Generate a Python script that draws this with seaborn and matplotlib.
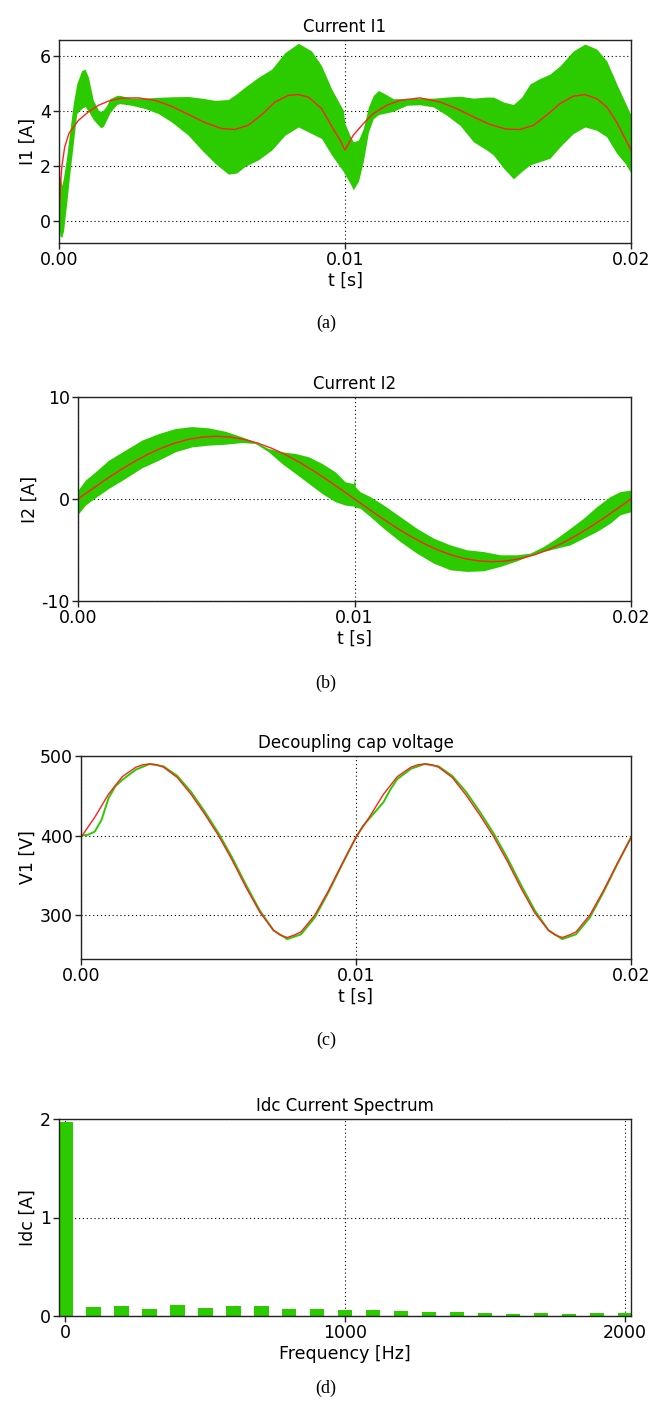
import numpy as np
import matplotlib
matplotlib.use("Agg")
import matplotlib.pyplot as plt
import seaborn as sns

# ---------------- data ----------------
# (a) Current I1: envelope of the switching band + averaged current (time in ms)
t_i1_band_ms = [0.00, 0.04, 0.10, 0.16, 0.27, 0.38, 0.50, 0.62, 0.79, 0.91,
                1.03, 1.20, 1.38, 1.46, 1.55, 1.66, 1.78, 2.02, 2.13, 2.54,
                3.01, 3.47, 3.94, 4.52, 4.99, 5.45, 5.92, 6.21, 6.50, 6.97,
                7.44, 7.90, 8.37, 8.83, 9.18, 9.53, 9.94, 10.00, 10.17, 10.29,
                10.47, 10.64, 10.82, 10.99, 11.17, 11.34, 11.69, 12.16, 12.62, 13.09,
                13.55, 14.02, 14.49, 14.95, 15.19, 15.54, 15.89, 16.18, 16.47, 16.82,
                17.17, 17.52, 17.98, 18.39, 18.80, 19.15, 19.50, 19.79, 20.00]
i1_upper = [1.60, 1.63, 1.30, 1.60, 2.35, 3.31, 4.28, 5.00, 5.48, 5.54,
            5.24, 4.40, 4.04, 4.00, 4.05, 4.20, 4.46, 4.58, 4.58, 4.48,
            4.48, 4.51, 4.53, 4.54, 4.48, 4.40, 4.43, 4.64, 4.88, 5.24,
            5.54, 6.14, 6.48, 6.20, 5.66, 4.82, 4.04, 3.55, 3.13, 2.89,
            2.95, 3.37, 4.16, 4.58, 4.76, 4.67, 4.46, 4.46, 4.48, 4.48,
            4.52, 4.55, 4.48, 4.52, 4.52, 4.34, 4.25, 4.52, 5.00, 5.20,
            5.36, 5.66, 6.20, 6.45, 6.27, 5.84, 5.00, 4.34, 3.86]
i1_lower = [-0.20, -0.55, -0.60, -0.35, 0.66, 1.75, 2.83, 3.92, 4.10, 4.18,
            4.00, 3.70, 3.49, 3.40, 3.45, 3.68, 3.95, 4.25, 4.28, 4.22,
            4.10, 3.92, 3.61, 3.13, 2.59, 2.11, 1.71, 1.75, 1.99, 2.23,
            2.59, 3.13, 3.43, 3.19, 3.01, 2.41, 1.81, 1.69, 1.39, 1.14,
            1.45, 2.17, 3.25, 3.73, 3.88, 3.92, 4.00, 4.22, 4.24, 4.16,
            3.86, 3.49, 2.89, 2.59, 2.41, 1.93, 1.54, 1.81, 2.05, 2.17,
            2.29, 2.71, 3.19, 3.43, 3.31, 3.07, 2.47, 2.11, 1.75]
t_i1_avg_ms = [0.0, 0.05, 0.10, 0.20, 0.35, 0.68, 1.03, 1.38, 1.72, 2.19,
               2.77, 3.36, 3.94, 4.52, 5.10, 5.69, 6.15, 6.62, 7.09, 7.55,
               8.02, 8.37, 8.72, 9.18, 9.65, 9.83, 10.0, 10.29, 10.64, 10.99,
               11.46, 11.92, 12.62, 13.32, 13.90, 14.49, 15.07, 15.65, 16.12, 16.59,
               17.05, 17.52, 17.98, 18.39, 18.80, 19.15, 19.50, 19.79, 20.0]
i1_avg = [0.0, 1.3, 2.0, 2.7, 3.2, 3.67, 3.98, 4.22, 4.37, 4.48,
          4.49, 4.40, 4.18, 3.89, 3.59, 3.37, 3.34, 3.49, 3.88, 4.34,
          4.58, 4.61, 4.52, 4.10, 3.25, 2.95, 2.59, 3.13, 3.55, 3.92,
          4.22, 4.40, 4.49, 4.34, 4.10, 3.80, 3.52, 3.35, 3.34, 3.49,
          3.86, 4.28, 4.55, 4.61, 4.46, 4.16, 3.61, 3.01, 2.59]

# (b) Current I2
t_i2_band_ms = [0, 0.27, 0.63, 1.11, 1.71, 2.31, 2.92, 3.52, 4.12, 4.72,
                5.33, 5.93, 6.41, 6.89, 7.37, 7.86, 8.34, 8.82, 9.30, 9.66,
                9.97, 10.0, 10.03, 10.2, 10.57, 11.05, 11.65, 12.25, 12.86, 13.46,
                14.06, 14.66, 15.27, 15.87, 16.35, 16.83, 17.31, 17.8, 18.28, 18.76,
                19.24, 19.6, 20.0]
i2_upper = [0.88, 1.86, 2.67, 3.81, 4.79, 5.77, 6.42, 6.91, 7.10, 6.97,
            6.64, 6.09, 5.60, 4.95, 4.63, 4.46, 4.14, 3.49, 2.67, 1.69,
            1.5, 2.2, 1.2, 0.72, 0.23, -0.59, -1.73, -2.87, -3.84, -4.50,
            -4.98, -5.15, -5.47, -5.47, -5.31, -4.66, -3.84, -2.87, -1.89, -0.75,
            0.23, 0.72, 0.88]
i2_lower = [-1.5, -0.59, 0.13, 1.04, 2.02, 3.06, 3.81, 4.63, 5.11, 5.28,
            5.37, 5.54, 5.44, 4.63, 3.49, 2.51, 1.53, 0.55, -0.26, -0.59,
            -0.7, -0.75, -0.8, -0.91, -1.73, -2.87, -4.17, -5.31, -6.29, -6.94,
            -7.10, -7.04, -6.61, -6.06, -5.54, -5.15, -4.82, -4.5, -3.84, -3.19,
            -2.38, -1.56, -1.24]
t_i2_avg_ms = [0.0, 0.5, 1.0, 1.5, 2.0, 2.5, 3.0, 3.5, 4.0, 4.5,
               5.0, 5.5, 6.0, 6.5, 7.0, 7.5, 8.0, 8.5, 9.0, 9.5,
               10.0, 10.5, 11.0, 11.5, 12.0, 12.5, 13.0, 13.5, 14.0, 14.5,
               15.0, 15.5, 16.0, 16.5, 17.0, 17.5, 18.0, 18.5, 19.0, 19.5, 20.0]
i2_avg = [0.00, 0.96, 1.90, 2.79, 3.61, 4.35, 4.98, 5.48, 5.85, 6.07,
          6.15, 6.07, 5.85, 5.48, 4.98, 4.35, 3.61, 2.79, 1.90, 0.96,
          0.00, -0.96, -1.90, -2.79, -3.61, -4.35, -4.98, -5.48, -5.85, -6.07,
          -6.15, -6.07, -5.85, -5.48, -4.98, -4.35, -3.61, -2.79, -1.90, -0.96, 0.00]

# (c) Decoupling cap voltage
t_v1_ref_ms = [0, 0.5, 1.0, 1.5, 2.0, 2.25, 2.5, 2.75, 3.0, 3.5,
               4.0, 4.5, 5.0, 5.5, 6.0, 6.5, 7.0, 7.25, 7.5, 7.75,
               8.0, 8.5, 9.0, 9.5, 10.0,
               10.5, 11.0, 11.5, 12.0, 12.25, 12.5, 12.75, 13.0, 13.5, 14.0,
               14.5, 15.0, 15.5, 16.0, 16.5, 17.0, 17.25, 17.5, 17.75, 18.0,
               18.5, 19.0, 19.5, 20.0]
v1_ref = [398, 423, 452, 474, 486, 489, 490, 489, 486, 473,
          452, 427, 400, 369, 335, 304, 281, 275, 272, 275,
          279, 300, 331, 365, 398,
          424, 452, 474, 486, 489, 490, 489, 486, 473, 451,
          426, 399, 368, 334, 303, 281, 275, 272, 275, 279,
          300, 331, 365, 397]
t_v1_sim_ms = [0, 0.25, 0.5, 0.75, 1.0, 1.25, 1.5, 2.0, 2.5, 3.0,
               3.5, 4.0, 4.5, 5.0, 5.5, 6.0, 6.5, 7.0, 7.5, 8.0,
               8.5, 9.0, 9.5, 10.0, 10.25, 10.5, 10.75, 11.0, 11.25, 11.5,
               12.0, 12.5, 13.0, 13.5, 14.0, 14.5, 15.0, 15.5, 16.0, 16.5,
               17.0, 17.5, 18.0, 18.5, 19.0, 19.5, 20.0]
v1_sim = [400, 401, 405, 420, 447, 462, 470, 483, 490, 487,
          475, 455, 430, 403, 372, 338, 306, 281, 270, 276,
          297, 329, 364, 398, 412, 422, 432, 442, 458, 471,
          484, 490, 487, 475, 455, 430, 403, 372, 338, 306,
          281, 270, 276, 297, 329, 364, 398]

# (d) Idc current spectrum
freq_hz = [0, 100, 200, 300, 400, 500, 600, 700, 800, 900, 1000,
           1100, 1200, 1300, 1400, 1500, 1600, 1700, 1800, 1900, 2000]
idc_amp = [1.97, 0.092, 0.105, 0.075, 0.115, 0.079, 0.10, 0.105, 0.075, 0.072, 0.059,
           0.059, 0.049, 0.039, 0.039, 0.03, 0.023, 0.026, 0.02, 0.026, 0.026]

time_ticks = [0.0, 0.01, 0.02]
time_ticklabels = ['0.00', '0.01', '0.02']

GREEN = '#2bcb00'
RED = '#ff2020'
W, H = 652, 1407

sns.set_style('ticks')
plt.rcParams['font.family'] = ['DejaVu Sans']
plt.rcParams['axes.unicode_minus'] = False
plt.rcParams['text.color'] = 'black'
plt.rcParams['axes.labelcolor'] = 'black'
plt.rcParams['axes.edgecolor'] = '#222222'
plt.rcParams['axes.linewidth'] = 1.0

fig = plt.figure(figsize=(W / 100, H / 100), dpi=100)


def add_panel(l, t, r, b):
    return fig.add_axes([l / W, 1 - b / H, (r - l) / W, (b - t) / H])


def style(ax, title, xlabel, ylabel):
    ax.set_title(title, fontsize=12, pad=6, color='black')
    ax.set_xlabel(xlabel, fontsize=12.5, labelpad=2)
    ax.set_ylabel(ylabel, fontsize=12.5, labelpad=2)
    ax.tick_params(axis='both', direction='out', length=4, width=1,
                   labelsize=12.5, colors='#222222', labelcolor='black', pad=2)
    ax.grid(True, color='black', linestyle=(0, (1, 2.5)), linewidth=0.8)
    for s in ax.spines.values():
        s.set_visible(True)
        s.set_color('#222222')


def ms(values):
    return np.asarray(values) / 1000.0


# ---- (a) ----
ax = add_panel(59, 40, 631, 243)
ax.fill_between(ms(t_i1_band_ms), i1_lower, i1_upper, color=GREEN, linewidth=0)
sns.lineplot(x=ms(t_i1_avg_ms), y=i1_avg, ax=ax, color=RED, linewidth=1.0,
             sort=False, estimator=None)
ax.set_xlim(0, 0.02)
ax.set_ylim(-0.8, 6.6)
ax.set_yticks([0, 2, 4, 6])
ax.set_xticks(time_ticks, time_ticklabels)
style(ax, 'Current I1', 't [s]', 'I1 [A]')

# ---- (b) ----
ax = add_panel(78, 397, 631, 601)
ax.fill_between(ms(t_i2_band_ms), i2_lower, i2_upper, color=GREEN, linewidth=0)
sns.lineplot(x=ms(t_i2_avg_ms), y=i2_avg, ax=ax, color=RED, linewidth=1.0,
             sort=False, estimator=None)
ax.set_xlim(0, 0.02)
ax.set_ylim(-10, 10)
ax.set_yticks([-10, 0, 10])
ax.set_xticks(time_ticks, time_ticklabels)
style(ax, 'Current I2', 't [s]', 'I2 [A]')

# ---- (c) ----
ax = add_panel(81, 756, 631, 959)
sns.lineplot(x=ms(t_v1_sim_ms), y=v1_sim, ax=ax, color=GREEN, linewidth=1.4,
             sort=False, estimator=None)
sns.lineplot(x=ms(t_v1_ref_ms), y=v1_ref, ax=ax, color=RED, linewidth=1.0,
             sort=False, estimator=None)
ax.set_xlim(0, 0.02)
ax.set_ylim(245, 500)
ax.set_yticks([300, 400, 500])
ax.set_xticks(time_ticks, time_ticklabels)
style(ax, 'Decoupling cap voltage', 't [s]', 'V1 [V]')

# ---- (d) ----
ax = add_panel(59, 1119, 631, 1316)
sns.barplot(x=freq_hz, y=idc_amp, ax=ax, native_scale=True, width=0.52,
            color=GREEN, saturation=1, linewidth=0, errorbar=None)
ax.set_xlim(-23, 2022)
ax.set_ylim(0, 2)
ax.set_yticks([0, 1, 2])
ax.set_xticks([0, 1000, 2000], ['0', '1000', '2000'])
style(ax, 'Idc Current Spectrum', 'Frequency [Hz]', 'Idc [A]')

for y, cap in [(323, '(a)'), (683, '(b)'), (1040, '(c)'), (1388, '(d)')]:
    fig.text(0.5, 1 - y / H, cap, ha='center', va='center',
             family='Liberation Serif', fontsize=13)

fig.savefig('out.png', dpi=100)
